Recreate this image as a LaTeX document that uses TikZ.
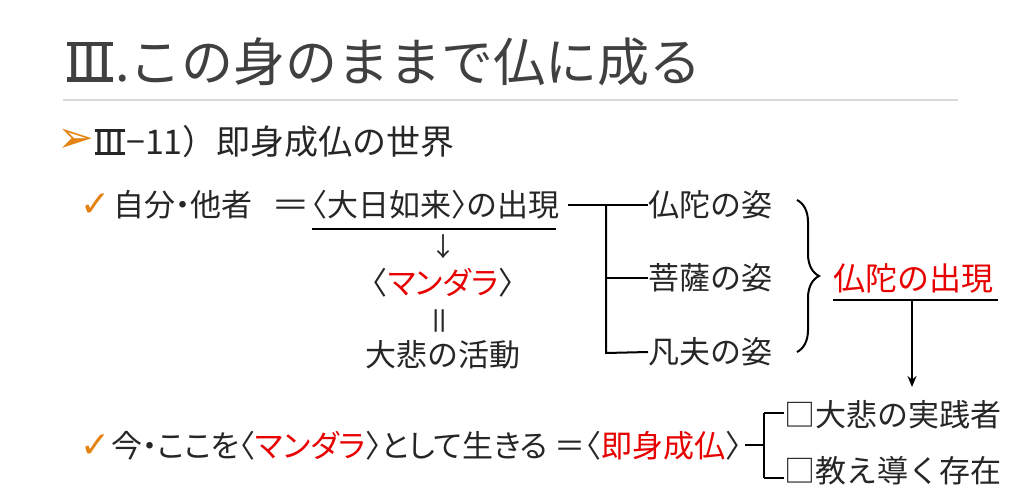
\documentclass[tikz,border=0pt]{standalone}
\usepackage{fontspec}
\setmainfont{Noto Sans CJK JP}
\newfontfamily\dvfont{DejaVu Sans}
\usetikzlibrary{decorations.pathreplacing,arrows.meta}
\definecolor{tgray}{RGB}{64,64,64}
\definecolor{bodyc}{RGB}{38,38,38}
\definecolor{mred}{RGB}{232,0,0}
\definecolor{orng}{RGB}{228,131,18}
\definecolor{rulec}{RGB}{217,217,217}
\newcommand\hw[1]{{\addfontfeature{RawFeature=+halt}#1}}
\newcommand\pw[1]{{\addfontfeature{RawFeature=+palt}#1}}
% Roman numeral three with top and bottom bars
\newcommand\rthree{\leavevmode\rlap{\hspace*{0.07em}\rule[-0.005em]{0.88em}{0.085em}}\rlap{\hspace*{0.07em}\rule[0.68em]{0.88em}{0.085em}}Ⅲ}
\begin{document}
\begin{tikzpicture}[x=1pt,y=-1pt,
  txt/.style={inner sep=0pt, text=bodyc, font=\fontsize{31}{33}\selectfont},
  redtxt/.style={inner sep=0pt, text=mred, font=\fontsize{32}{34}\selectfont},
  chk/.style={inner sep=0pt, text=orng, font=\dvfont\fontsize{36}{38}\selectfont},
  ln/.style={line width=2pt, draw=black},
  ul/.style={line width=2.5pt, draw=black}]
\useasboundingbox[fill=white] (0,0) rectangle (1024,502);
% title
\node[anchor=west, inner sep=0pt, text=tgray, font=\fontsize{52}{56}\selectfont] (title) at (63,62) {\rthree.この身のままで仏に成る};
\coordinate (r1) at (63,100); \coordinate (r2) at (958,100);
\draw[rulec, line width=1.2pt] (r1) -- (r2);
% subtitle
\node[inner sep=0pt, text=orng, font=\dvfont\fontsize{44}{46}\selectfont] (arr) at (76,141) {➢};
\node[anchor=west, inner sep=0pt, text=bodyc, font=\fontsize{34}{36}\selectfont] (sub) at (92,142) {\rthree−11）即身成仏の世界};
% line 1
\node[chk] (ck1) at (96,205) {✓};
\node[txt, anchor=west] (self) at (113,205) {自分\hw{・}他者};
\node[txt, anchor=west] (dn) at (271.6,205) {\scalebox{1.25}[1]{＝}\hspace{1pt}\hw{〈}大日如来\hw{〉}の出現};
\coordinate (u1a) at (312,229); \coordinate (u1b) at (556,229);
\draw[ul] (u1a) -- (u1b);
\node[txt, font=\fontsize{26}{28}\selectfont] (down) at (443,247) {↓};
\node[txt] (man) at (443,283) {\hw{〈}\textcolor{mred}{\pw{マンダラ}}\hw{〉}};
\node[txt, rotate=90] (veq) at (443,321) {＝};
\node[txt] (act) at (443,355) {大悲の活動};
% tree
\node[txt, anchor=west] (b1) at (648,205) {仏陀の姿};
\node[txt, anchor=west] (b2) at (648,278) {菩薩の姿};
\node[txt, anchor=west] (b3) at (648,352) {凡夫の姿};
\coordinate (t0) at (568,205);
\coordinate (tj1) at (606,205);
\coordinate (tj2) at (606,278);
\coordinate (tj3) at (606,353);
\draw[ln] (t0) -- (b1.west);
\draw[ln] (tj1) -- (tj3) -- (b3.west);
\draw[ln] (tj2) -- (b2.west);
\coordinate (br1) at (797,200); \coordinate (br2) at (797,352);
\draw[ln, decorate, decoration={brace, amplitude=22pt, aspect=0.5}] (br1) -- (br2);
\node[redtxt, anchor=west] (bud) at (833,278) {仏陀の出現};
\coordinate (u2a) at (833,300); \coordinate (u2b) at (998,300);
\draw[ln] (u2a) -- (u2b);
\coordinate (a1) at (912,300); \coordinate (a2) at (912,387);
\draw[ln, -{Stealth[length=11pt,width=9pt]}] (a1) -- (a2);
% bottom line
\node[chk] (ck2) at (96,446) {✓};
\node[txt, anchor=west] (live) at (111,446) {今\hw{・}\pw{ここを}\hw{〈}\textcolor{mred}{\pw{マンダラ}}\hw{〉}\pw{として}生\pw{きる} ＝\hw{〈}\textcolor{mred}{即身成仏}\hw{〉}};
\coordinate (c0) at (745,445); \coordinate (cj) at (764,445);
\coordinate (cj1) at (764,413); \coordinate (cj2) at (764,478);
\node[txt, anchor=west] (p1) at (784,415) {□大悲の実践者};
\node[txt, anchor=west] (p2) at (784,471) {□教え導く存在};
\draw[ln] (c0) -- (cj);
\draw[ln] (cj1) -- (cj2);
\draw[ln] (cj1) -- (p1.west |- cj1);
\draw[ln] (cj2) -- (p2.west |- cj2);
\end{tikzpicture}
\end{document}
